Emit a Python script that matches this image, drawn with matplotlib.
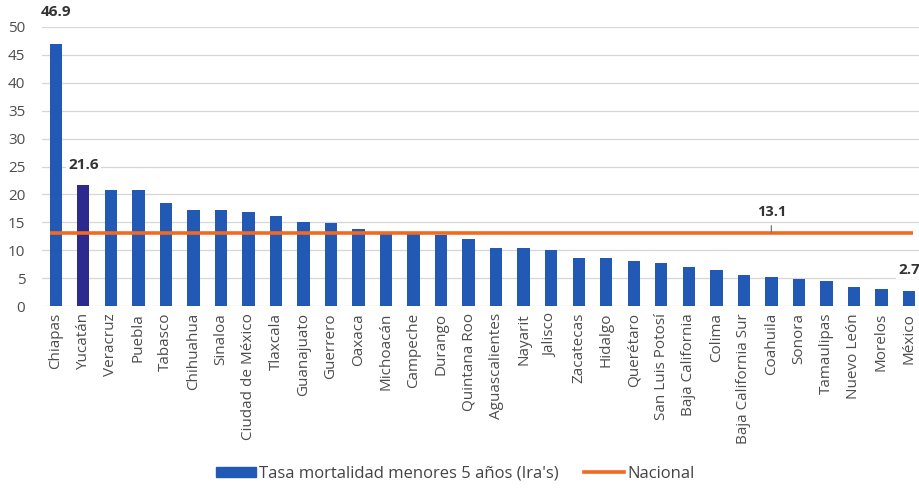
import numpy as np
import matplotlib.pyplot as plt
from matplotlib.patches import Patch
from matplotlib.lines import Line2D

plt.rcParams['font.family'] = ['Open Sans', 'DejaVu Sans']

# --- datos ---
estados = ['Chiapas', 'Yucatán', 'Veracruz', 'Puebla', 'Tabasco', 'Chihuahua', 'Sinaloa',
           'Ciudad de México', 'Tlaxcala', 'Guanajuato', 'Guerrero', 'Oaxaca', 'Michoacán',
           'Campeche', 'Durango', 'Quintana Roo', 'Aguascalientes', 'Nayarit', 'Jalisco',
           'Zacatecas', 'Hidalgo', 'Querétaro', 'San Luis Potosí', 'Baja California', 'Colima',
           'Baja California Sur', 'Coahuila', 'Sonora', 'Tamaulipas', 'Nuevo León', 'Morelos',
           'México']
tasa = [46.9, 21.6, 20.8, 20.8, 18.4, 17.2, 17.2, 16.9, 16.2, 15.0, 14.8, 13.8, 13.0,
        12.9, 12.8, 12.0, 10.4, 10.4, 10.1, 8.6, 8.6, 8.1, 7.7, 6.9, 6.5, 5.6, 5.2, 4.9,
        4.4, 3.4, 3.0, 2.7]
nacional = 13.1
etiquetados = ['Chiapas', 'Yucatán', 'México']
resaltado = 'Yucatán'

azul = '#2159b5'
azul_osc = '#2c2a8e'
naranja = '#f26a21'
gris_txt = '#4d4d4d'

fig = plt.figure(figsize=(9.2, 4.88), dpi=100)
ax = fig.add_axes([42 / 920, 1 - 306 / 488, 1 - 42 / 920, (306 - 27) / 488])

x = np.arange(len(estados))
colores = [azul_osc if e == resaltado else azul for e in estados]
ax.bar(x, tasa, width=0.45, color=colores, zorder=3)

# linea nacional
ax.plot([-0.2, len(estados) - 0.85], [nacional, nacional], color=naranja, lw=2.6, zorder=4,
        solid_capstyle='butt')
ax.annotate(f'{nacional}', xy=(26.0, nacional), xytext=(26.0, nacional + 3.8),
            ha='center', va='center', fontsize=10.5, fontweight='bold', color='#333333',
            arrowprops=dict(arrowstyle='-', color='#7a7a7a', lw=0.9, shrinkA=3, shrinkB=0),
            zorder=5)

# etiquetas de valor
for e in etiquetados:
    i = estados.index(e)
    off = 23 if tasa[i] > 40 else 15
    ax.annotate(f'{tasa[i]}', xy=(i, tasa[i]), xytext=(0, off), textcoords='offset points',
                ha='center', va='center', fontsize=11, fontweight='bold', color='#333333',
                bbox=dict(boxstyle='square,pad=0.15', fc='white', ec='none'),
                annotation_clip=False, zorder=6)

ax.set_xlim(-0.5, 31.4)
ax.set_ylim(0, 50)
ax.set_yticks(np.arange(0, 51, 5))
ax.set_xticks(x)
ax.set_xticklabels(estados, rotation=90, fontsize=11, color=gris_txt)
ax.tick_params(axis='y', labelsize=11, labelcolor=gris_txt, length=0, pad=12)
ax.tick_params(axis='x', length=0, pad=5)
ax.grid(axis='y', color='#d6d6d6', lw=0.9, zorder=0)
for s in ax.spines.values():
    s.set_visible(False)

handles = [Patch(color=azul), Line2D([0], [0], color=naranja, lw=2.6)]
fig.legend(handles, ["Tasa mortalidad menores 5 años (Ira's)", 'Nacional'],
           loc='center', bbox_to_anchor=(455 / 920, 1 - 474 / 488), ncol=2, frameon=False,
           fontsize=12, handlelength=2.4, handleheight=0.6, handletextpad=0.2,
           columnspacing=1.5, labelcolor='#444444')

plt.savefig('out.png', dpi=100)
